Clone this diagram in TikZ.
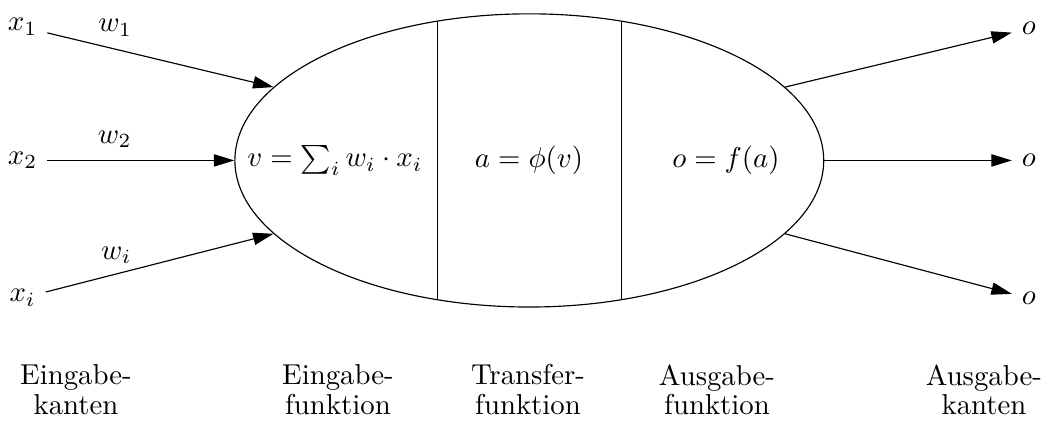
\documentclass[tikz,border=0pt]{standalone}
\usepackage{amsmath,amssymb}
\usepackage{tikz}
\usetikzlibrary{arrows.meta,shapes.geometric}
\tikzset{
  neuron/.style={ellipse,draw,minimum width=7.19cm,minimum height=3.58cm,inner sep=0pt},
  arr/.style={-{Triangle[length=2.5mm,width=1.5mm]}},
  part/.style={align=center,font=\fontsize{10}{10.2}\selectfont},
}

\begin{document}
\begin{tikzpicture}
  \useasboundingbox (0,0) rectangle (12.76,5.14);
  % neuron body
  \node[neuron] (neuron) at (6.463,3.181) {};
  \draw (5.339,1.481) -- (5.339,4.881);
  \draw (7.586,1.481) -- (7.586,4.881);
  \node (fin)  at (4.090,3.181) {$v=\sum_i w_i\cdot x_i$};
  \node (ftr)  at (6.459,3.181) {$a=\phi(v)$};
  \node (fout) at (8.864,3.181) {$o=f(a)$};
  % inputs
  \node (x1) at (0.275,4.811) {$x_1$};
  \node (x2) at (0.275,3.181) {$x_2$};
  \node (xi) at (0.275,1.502) {$x_i$};
  \draw[arr] (x1) -- node[pos=0.30,above=1pt] (w1) {$w_1$} (neuron.164);
  \draw[arr] (x2) -- node[pos=0.36,above=1pt] (w2) {$w_2$} (neuron.west);
  \draw[arr] (xi) -- node[pos=0.31,above] (wi) {$w_i$} (neuron.196);
  % outputs
  \node (o1) at (12.564,4.792) {$o$};
  \node (o2) at (12.564,3.181) {$o$};
  \node (o3) at (12.564,1.496) {$o$};
  \draw[arr] (neuron.16) -- (o1);
  \draw[arr] (neuron.east) -- (o2);
  \draw[arr] (neuron.-16) -- (o3);
  % captions
  \node[part] (cin)  at (0.928,0.382)  {Eingabe-\\kanten};
  \node[part] (cfin) at (4.127,0.382)  {Eingabe-\\funktion};
  \node[part] (cftr) at (6.447,0.382)  {Transfer-\\funktion};
  \node[part] (cfo)  at (8.755,0.382)  {Ausgabe-\\funktion};
  \node[part] (cout) at (12.015,0.382) {Ausgabe-\\kanten};
\end{tikzpicture}
\end{document}
